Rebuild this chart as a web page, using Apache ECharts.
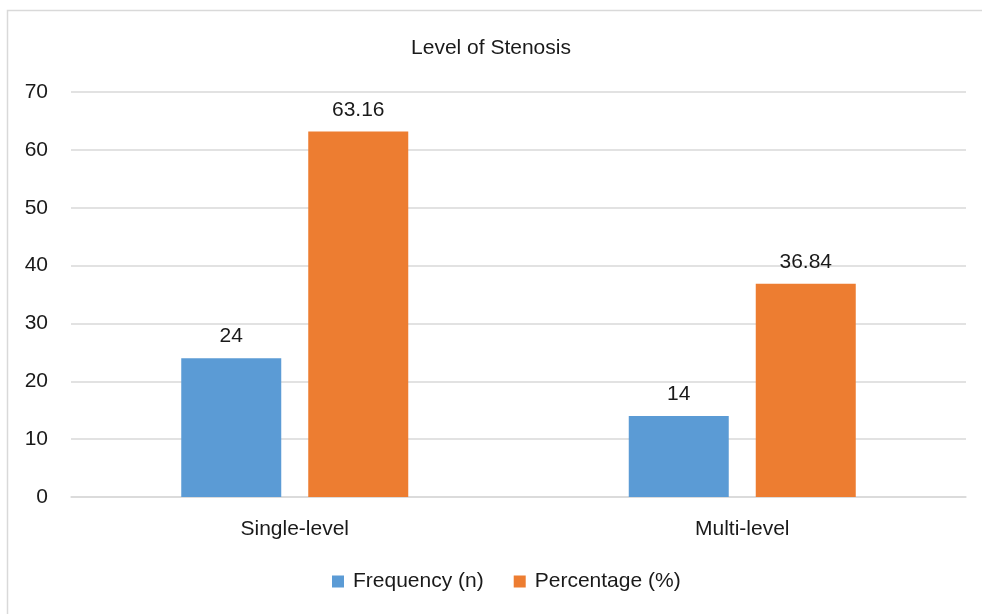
<!DOCTYPE html>
<html>
<head>
<meta charset="utf-8">
<script src="https://cdn.jsdelivr.net/npm/echarts@6/dist/echarts.min.js"></script>
<style>
  html, body { margin: 0; padding: 0; background: #fff; }
  #chart { width: 982px; height: 614px; }
</style>
</head>
<body>
<div id="chart"></div>
<script>
// data
var categories = ["Single-level", "Multi-level"];
var frequency = [24, 14];
var percentage = [63.16, 36.84];
var seriesNames = ["Frequency (n)", "Percentage (%)"];

var textFont = "Liberation Sans";
var fs = 21;
var chart = echarts.init(document.getElementById("chart"));

var option = {
  animation: false,
  title: {
    text: "Level of Stenosis",
    left: "center",
    top: 33,
    textStyle: { color: "#1a1a1a", fontSize: fs, fontWeight: "normal", fontFamily: textFont }
  },
  // chart frame: only the left and top edges show in the picture
  graphic: [
    {
      type: "polyline",
      shape: { points: [[7.5, 700], [7.5, 10.5], [1100, 10.5]] },
      style: { fill: "none", stroke: "#d9d9d9", lineWidth: 1.5 },
      silent: true
    }
  ],
  legend: {
    bottom: 17,
    left: 327,
    icon: "rect",
    itemWidth: 12,
    itemHeight: 12,
    itemGap: 30,
    textStyle: { color: "#1a1a1a", fontSize: fs, fontFamily: textFont, padding: [0, 0, 0, 4] },
    data: seriesNames
  },
  grid: { left: 71, right: 16, top: 92, bottom: 117 },
  xAxis: {
    type: "category",
    data: categories,
    axisTick: { show: false },
    axisLine: { lineStyle: { color: "#d9d9d9", width: 1.5 } },
    axisLabel: { color: "#1a1a1a", fontSize: fs, fontFamily: textFont, margin: 22 }
  },
  yAxis: {
    type: "value",
    min: 0,
    max: 70,
    interval: 10,
    axisLine: { show: false },
    axisTick: { show: false },
    splitLine: { lineStyle: { color: "#d9d9d9", width: 1.5 } },
    axisLabel: { color: "#1a1a1a", fontSize: fs, fontFamily: textFont, margin: 23 }
  },
  series: [
    {
      name: seriesNames[0],
      type: "bar",
      data: frequency,
      barWidth: 100,
      barGap: "27%",
      itemStyle: { color: "#5b9bd5" },
      label: { show: true, position: "top", distance: 11, color: "#1a1a1a", fontSize: fs, fontFamily: textFont }
    },
    {
      name: seriesNames[1],
      type: "bar",
      data: percentage,
      barWidth: 100,
      barGap: "27%",
      itemStyle: { color: "#ed7d31" },
      label: { show: true, position: "top", distance: 11, color: "#1a1a1a", fontSize: fs, fontFamily: textFont }
    }
  ]
};

chart.setOption(option);
</script>
</body>
</html>
